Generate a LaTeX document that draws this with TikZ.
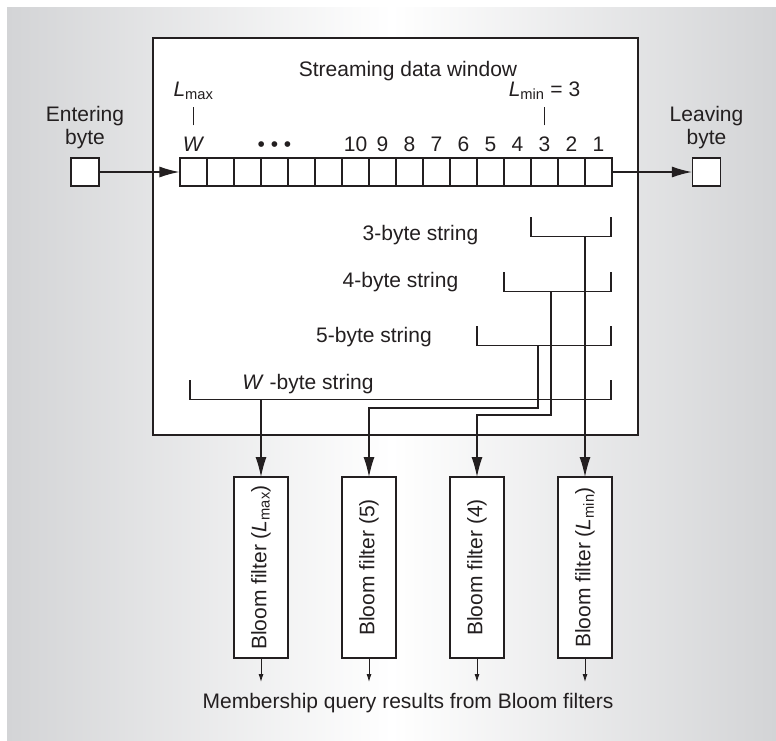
\documentclass[tikz,border=0pt]{standalone}
\usepackage{fontspec}
\setmainfont{Liberation Sans}
\usepackage{graphicx}
\usetikzlibrary{arrows.meta, positioning}
\definecolor{ink}{HTML}{231F20}
\definecolor{bggray}{HTML}{D3D4D6}

\begin{document}
\begin{tikzpicture}[x=1pt, y=-1pt, line width=1.25pt, color=ink,
    every node/.style={font=\fontsize{21}{23}\selectfont, inner sep=0pt},
    cell/.style={draw, fill=white, minimum width=27pt, minimum height=28pt},
    bytebox/.style={draw, fill=white, minimum width=28pt, minimum height=28pt},
    bloom/.style={draw, fill=white, line width=1.4pt, outer sep=0pt, minimum width=54pt, minimum height=181pt},
    bigarrow/.style={-{Latex[length=20pt, width=11pt]}},
    smallarrow/.style={-{Latex[length=8pt, width=5pt]}, line width=0.9pt}]

    % Background
    \useasboundingbox (0,0) rectangle (776,740);
    \shade[left color=bggray, right color=bggray, middle color=white] (7,7) rectangle (776,740);

    % Streaming data window
    \node (win) [draw, fill=white, line width=1.4pt, minimum width=485pt, minimum height=397pt] at (395.5,236.5) {};
    \node[anchor=base] at (408,76) {Streaming data window};

    % Byte cells, numbered from the right
    \foreach \n in {1,...,16}
        \node (c\n) [cell] at ({612-27*(\n-0.5)},172) {};
    \foreach \n in {1,...,10}
        \node[anchor=base] at ([yshift=6pt]c\n.north) {\n};
    \node[anchor=base] at ([yshift=6pt]c16.north) {\textit{W}};
    \node[anchor=base] at ([yshift=6pt]c13.north) {• • •};

    % L_max and L_min marks
    \node (lmax) [anchor=base] at ([yshift=61pt]c16.north) {\textit{L}\textsubscript{max}};
    \node (lmin) [anchor=base] at ([yshift=61pt]c3.north) {\textit{L}\textsubscript{min} = 3};
    \draw[line width=1pt] ([yshift=32pt]c16.north) -- ++(0,-18);
    \draw[line width=1pt] ([yshift=32pt]c3.north) -- ++(0,-18);

    % Entering and leaving bytes
    \node (inbyte) [bytebox] at (85,172) {};
    \node[above=8pt of inbyte, align=center] {Entering\\byte};
    \node (outbyte) [bytebox] at (706.5,172) {};
    \node[above=8pt of outbyte, align=center] {Leaving\\byte};
    \draw[bigarrow] (inbyte) -- (c16);
    \draw[bigarrow] (c1) -- (outbyte);

    % String brackets
    \foreach \x/\y in {531/217, 504/272, 477/326, 190/380}
        \draw (\x,\y) -- ++(0,19.5) -| (611,\y);
    \node[anchor=base] at (420.5,240.5) {3-byte string};
    \node[anchor=base] at (400.5,287) {4-byte string};
    \node[anchor=base] at (374,342) {5-byte string};
    \node[anchor=base] at (308,389) {\textit{W} -byte string};

    % Bloom filters
    \node (bfmax) [bloom] at (261,567.5) {\rotatebox{90}{Bloom filter (\textit{L}\textsubscript{max})}};
    \node (bf5) [bloom, right=54pt of bfmax] {\rotatebox{90}{Bloom filter (5)}};
    \node (bf4) [bloom, right=54pt of bf5] {\rotatebox{90}{Bloom filter (4)}};
    \node (bfmin) [bloom, right=54pt of bf4] {\rotatebox{90}{Bloom filter (\textit{L}\textsubscript{min})}};

    % Strings into the filters
    \coordinate (s3) at (585,236.5);
    \coordinate (s4) at (551,291.5);
    \coordinate (s5) at (538,345.5);
    \coordinate (sW) at (261,399.5);
    \coordinate (k5) at (369,408);
    \coordinate (k4) at (477,415);
    \draw[bigarrow] (sW) -- (bfmax);
    \draw[bigarrow] (s5) |- (k5) -- (bf5);
    \draw[bigarrow] (s4) |- (k4) -- (bf4);
    \draw[bigarrow] (s3) -- (bfmin);

    % Query results
    \foreach \b in {bfmax,bf5,bf4,bfmin}
        \draw[smallarrow] (\b.south) -- ++(0,24);
    \node[anchor=base] at (408,708) {Membership query results from Bloom filters};

\end{tikzpicture}
\end{document}
